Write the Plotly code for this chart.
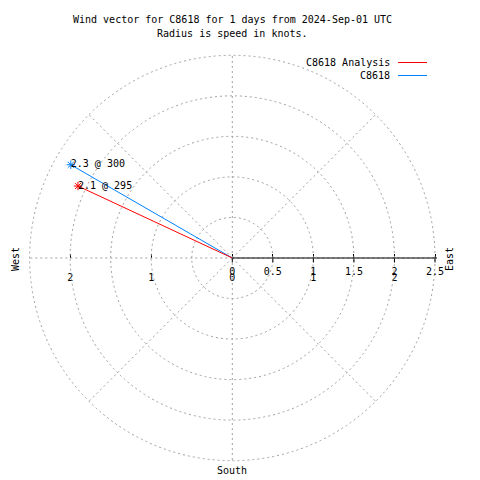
import plotly.graph_objects as go

# ---- data ----
series_names = ["C8618", "C8618 Analysis"]
speeds_kt = [2.3, 2.1]
directions_deg = [300, 295]
series_colors = ["#0080ff", "#ff0000"]
radial_ticks = [0, 0.5, 1, 1.5, 2, 2.5]
x_tickvals = [-2, -1, 0, 0.5, 1, 1.5, 2, 2.5]
x_ticktext = ["2", "1", "0", "", "1", "", "2", ""]
title_lines = ["Wind vector for C8618 for 1 days from 2024-Sep-01 UTC",
               "Radius is speed in knots."]

W = H = 480
FONT = dict(family="DejaVu Sans Mono", size=10, color="black")
GRID = "#a0a0a0"
RMAX = 2.5
RPAD = 1.01  # keeps the outer grid circle inside the drawn range

# plot geometry (pixels)
cx, cy, R = 232.3, 258.0, 202.7
Rd = R * RPAD
dom_x = [(cx - Rd) / W, (cx + Rd) / W]
dom_y = [1 - (cy + Rd) / H, 1 - (cy - Rd) / H]

fig = go.Figure()

# invisible cartesian trace to carry the flat x axis labels (drawn beneath polar)
fig.add_trace(go.Scatter(x=x_tickvals, y=[0] * len(x_tickvals), mode="markers",
                         marker=dict(opacity=0), showlegend=False, hoverinfo="skip"))

for name, spd, d, col in zip(series_names, speeds_kt, directions_deg, series_colors):
    fig.add_trace(go.Scatterpolar(
        r=[0, spd], theta=[d, d], mode="lines", name=name,
        line=dict(color=col, width=1), showlegend=False, hoverinfo="skip"))
    fig.add_trace(go.Scatterpolar(
        r=[spd], theta=[d], mode="markers", name=name,
        marker=dict(symbol="asterisk-open", size=7, color=col, line=dict(color=col, width=1)),
        showlegend=False, hoverinfo="skip"))
    fig.add_trace(go.Scatterpolar(
        r=[spd], theta=[d], mode="text", name=name,
        text=[f"{spd} @ {d}"], textposition="middle right",
        textfont=FONT, showlegend=False, hoverinfo="skip"))

fig.update_layout(
    width=W, height=H, margin=dict(l=0, r=0, t=0, b=0),
    paper_bgcolor="white", plot_bgcolor="rgba(0,0,0,0)",
    font=FONT,
    polar=dict(
        domain=dict(x=dom_x, y=dom_y),
        bgcolor="rgba(0,0,0,0)",
        radialaxis=dict(range=[0, RMAX * RPAD], tickvals=radial_ticks,
                        ticktext=[f"{t:g}" for t in radial_ticks],
                        angle=0, tickangle=0, side="clockwise",
                        showline=True, linecolor="black", linewidth=1,
                        ticks="outside", ticklen=4, tickcolor="black",
                        showgrid=True, gridcolor=GRID, griddash="2px,3px", gridwidth=1,
                        tickfont=FONT),
        angularaxis=dict(rotation=90, direction="clockwise", dtick=45,
                         showticklabels=False, ticks="", showline=False,
                         showgrid=True, gridcolor=GRID, griddash="2px,3px", gridwidth=1),
    ),
    xaxis=dict(domain=dom_x, range=[-RMAX * RPAD, RMAX * RPAD],
               tickvals=x_tickvals, ticktext=x_ticktext,
               showgrid=False, zeroline=False, showline=False,
               ticks="inside", ticklen=4, tickcolor="black", ticklabelstandoff=12,
               anchor="free", position=1 - cy / H, tickfont=FONT, fixedrange=True),
    yaxis=dict(domain=dom_y, range=[-RMAX * RPAD, RMAX * RPAD], visible=False,
               fixedrange=True),
)

# titles
fig.add_annotation(text=title_lines[0], x=cx / W, y=1 - 20 / H, xref="paper", yref="paper",
                   showarrow=False, xanchor="center", yanchor="middle", font=FONT)
fig.add_annotation(text=title_lines[1], x=cx / W, y=1 - 34 / H, xref="paper", yref="paper",
                   showarrow=False, xanchor="center", yanchor="middle", font=FONT)

# compass labels
fig.add_annotation(text="West", x=15 / W, y=1 - 259 / H, xref="paper", yref="paper",
                   showarrow=False, textangle=-90, xanchor="center", yanchor="middle", font=FONT)
fig.add_annotation(text="East", x=449 / W, y=1 - 259 / H, xref="paper", yref="paper",
                   showarrow=False, textangle=-90, xanchor="center", yanchor="middle", font=FONT)
fig.add_annotation(text="South", x=cx / W, y=1 - 470 / H, xref="paper", yref="paper",
                   showarrow=False, xanchor="center", yanchor="middle", font=FONT)

# legend (text then sample line, gnuplot style)
for i, (name, col) in enumerate([(series_names[1], series_colors[1]),
                                 (series_names[0], series_colors[0])]):
    ly = 62.5 + 13 * i
    fig.add_annotation(text=name, x=392 / W, y=1 - ly / H, xref="paper", yref="paper",
                       showarrow=False, xanchor="right", yanchor="middle", font=FONT)
    fig.add_shape(type="line", xref="paper", yref="paper",
                  x0=398 / W, x1=427 / W, y0=1 - ly / H, y1=1 - ly / H,
                  line=dict(color=col, width=1))

fig.write_html("out.html", config={"displayModeBar": False},
               post_script="document.body.style.margin='0';")
